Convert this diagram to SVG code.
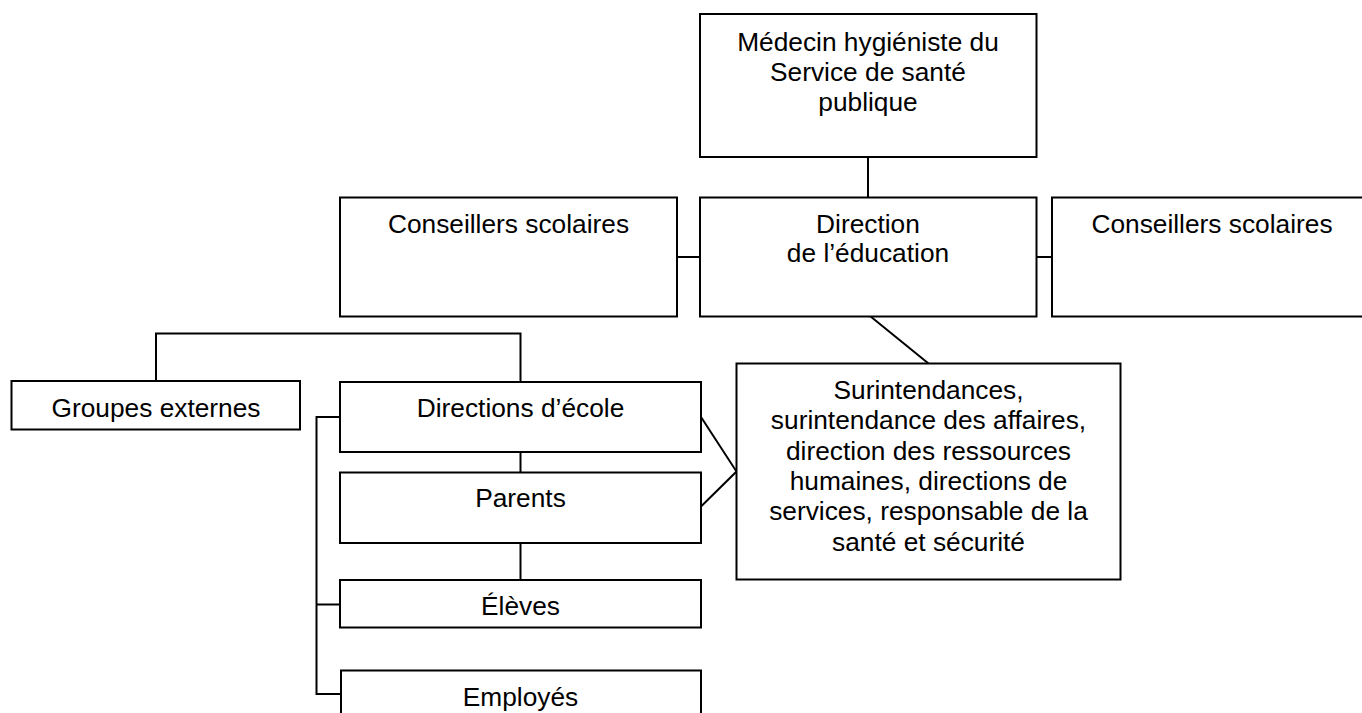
<svg xmlns="http://www.w3.org/2000/svg" width="1362" height="713" viewBox="0 0 1362 713">
<style>
.box{fill:#fff;stroke:#000;stroke-width:2}
.ln{fill:none;stroke:#000;stroke-width:2}
text{font-family:"Liberation Sans",Arial,sans-serif;font-size:26.3px;fill:#000;text-anchor:middle}
</style>
<rect width="1362" height="713" fill="#fff"/>
<g id="connectors">
<line class="ln" x1="868" y1="157" x2="868" y2="197"/>
<line class="ln" x1="677" y1="257" x2="700" y2="257"/>
<line class="ln" x1="1037" y1="257" x2="1052" y2="257"/>
<line class="ln" x1="870" y1="316" x2="928.5" y2="363.5"/>
<polyline class="ln" points="156,381 156,333.5 520.5,333.5 520.5,382"/>
<line class="ln" x1="520.5" y1="452" x2="520.5" y2="472"/>
<line class="ln" x1="520.5" y1="543" x2="520.5" y2="580"/>
<polyline class="ln" points="340,417 316.5,417 316.5,694 341,694"/>
<line class="ln" x1="316.5" y1="604.5" x2="340" y2="604.5"/>
<polyline class="ln" points="701,417 736.5,471.5 701,506.5"/>
</g>
<g id="medecin">
<rect class="box" x="700" y="14" width="336.5" height="143"/>
<text x="868" y="50.5">Médecin hygiéniste du</text>
<text x="868" y="81">Service de santé</text>
<text x="868" y="111">publique</text>
</g>
<g id="conseillers-gauche">
<rect class="box" x="340" y="197.5" width="337" height="119"/>
<text x="508.5" y="232.5">Conseillers scolaires</text>
</g>
<g id="direction-education">
<rect class="box" x="700" y="197.5" width="336.5" height="119"/>
<text x="868" y="233">Direction</text>
<text x="868" y="262">de l’éducation</text>
</g>
<g id="conseillers-droite">
<rect class="box" x="1052" y="197.5" width="320" height="119"/>
<text x="1212" y="232.5">Conseillers scolaires</text>
</g>
<g id="surintendances">
<rect class="box" x="736.5" y="363.5" width="384" height="216"/>
<text x="928.5" y="399">Surintendances,</text>
<text x="928.5" y="429.3">surintendance des affaires,</text>
<text x="928.5" y="459.6">direction des ressources</text>
<text x="928.5" y="489.9">humaines, directions de</text>
<text x="928.5" y="520.2">services, responsable de la</text>
<text x="928.5" y="550.5">santé et sécurité</text>
</g>
<g id="groupes-externes">
<rect class="box" x="11.5" y="381" width="288.5" height="48.5"/>
<text x="156" y="416.5">Groupes externes</text>
</g>
<g id="directions-ecole">
<rect class="box" x="340" y="382" width="361" height="70"/>
<text x="520.5" y="416.5">Directions d’école</text>
</g>
<g id="parents">
<rect class="box" x="340" y="472.5" width="361" height="70.5"/>
<text x="520.5" y="506.5">Parents</text>
</g>
<g id="eleves">
<rect class="box" x="340" y="580" width="361" height="47.5"/>
<text x="520.5" y="615">Élèves</text>
</g>
<g id="employes">
<rect class="box" x="341" y="670.5" width="360" height="60"/>
<text x="520.5" y="706">Employés</text>
</g>
</svg>
